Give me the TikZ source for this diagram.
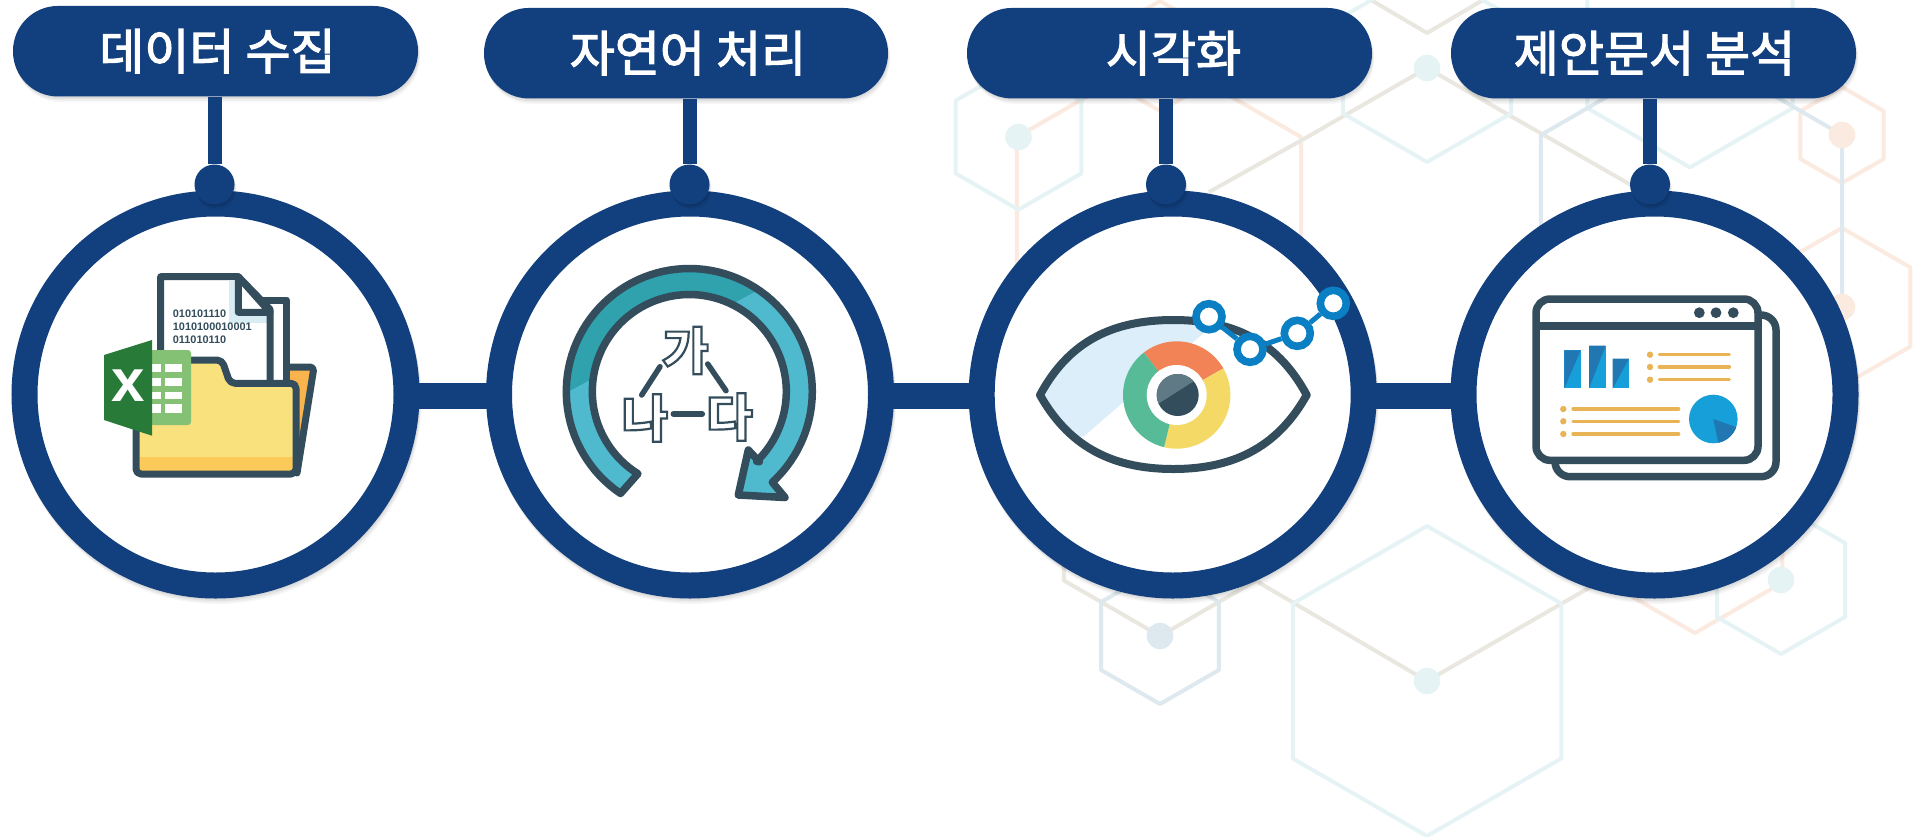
\documentclass[tikz,border=0pt]{standalone}
\usepackage{fontspec}
\setmainfont{Liberation Sans}
\newfontfamily\krfont{Noto Sans CJK KR}
\newfontfamily\krpill{Noto Sans CJK KR}[FakeBold=2.4]
\usetikzlibrary{calc}
\definecolor{navy}{HTML}{123F7D}
\definecolor{slate}{HTML}{344D5C}
\definecolor{hexteal}{HTML}{E6F3F5}
\definecolor{hexblue}{HTML}{DEE9EF}
\definecolor{hexorange}{HTML}{FBEADF}
\definecolor{hexbeige}{HTML}{E9E7E0}
\definecolor{folderyellow}{HTML}{F9E17E}
\definecolor{folderband}{HTML}{FCCA58}
\definecolor{folderback}{HTML}{F9B44E}
\definecolor{foldshade}{HTML}{D8ECF3}
\definecolor{xlsdark}{HTML}{287A38}
\definecolor{xlslight}{HTML}{84C175}
\definecolor{arrowlight}{HTML}{4FB9CD}
\definecolor{arrowdark}{HTML}{2FA2AE}
\definecolor{eyeshade}{HTML}{DBEEFA}
\definecolor{irisorange}{HTML}{F28357}
\definecolor{irisyellow}{HTML}{F5D966}
\definecolor{irisgreen}{HTML}{58BB97}
\definecolor{pupillight}{HTML}{607A85}
\definecolor{chainblue}{HTML}{0A7FC4}
\definecolor{bardark}{HTML}{2177B1}
\definecolor{barlight}{HTML}{179FDA}
\definecolor{listorange}{HTML}{E8B455}
\tikzset{
  hexline/.style={line width=4pt,line join=round},
  hexdot/.style={circle,inner sep=0pt,minimum size=26.6pt},
  ringnode/.style={circle,draw=navy,fill=white,line width=26pt,inner sep=0pt,minimum size=382pt},
  pillnode/.style={rectangle,fill=navy,rounded corners=45pt,minimum width=405pt,minimum height=90.5pt,inner sep=0pt,text=white,font=\krpill\fontsize{49}{51}\selectfont},
  dotnode/.style={circle,fill=navy,inner sep=0pt,minimum size=40pt},
  stemline/.style={navy,line width=14pt},
  barline/.style={navy,line width=26pt,shorten <=-4pt,shorten >=-4pt},
  iconline/.style={slate,line width=7pt,line join=round,line cap=round},
  hangul/.style={inner sep=0pt,font=\krfont\bfseries\fontsize{50.5}{52}\selectfont},
  triline/.style={slate,line width=5.5pt,line cap=round},
  chainnode/.style={circle,draw=chainblue,fill=white,line width=7.6pt,inner sep=0pt,minimum size=26pt},
  chainline/.style={chainblue,line width=5pt},
  listline/.style={listorange,line width=3.4pt,line cap=round},
  bindigit/.style={inner sep=0pt,anchor=west,text=slate,font=\bfseries\fontsize{10.9}{11}\selectfont}
}
\newcommand\hexa[4]{\draw[hexline,#4] ({#1},{#2-#3}) -- ({#1+.866*#3},{#2-.5*#3}) -- ({#1+.866*#3},{#2+.5*#3}) -- ({#1},{#2+#3}) -- ({#1-.866*#3},{#2+.5*#3}) -- ({#1-.866*#3},{#2-.5*#3}) -- cycle;}
\newcommand\ringarrow{plot[domain=236:-47.6,samples=90] ({689.3+123*cos(\x)},{391.5-123*sin(\x)}) -- (772.7,482.7) -- (785,497.5) -- (738.3,495) -- (748.3,450) -- (759.3,461.7) -- plot[domain=-46:238,samples=90] ({689.3+97*cos(\x)},{391.5-97*sin(\x)}) -- cycle}
\newcommand\eyeoutline{(1040,395) .. controls (1067,345) and (1108,320) .. (1173.3,320) .. controls (1238.7,320) and (1279.7,345) .. (1306.7,395) .. controls (1279.7,443) and (1238.7,469) .. (1173.3,469) .. controls (1108,469) and (1067,443) .. (1040,395) -- cycle}
\newcommand\softblock[4]{\foreach \d/\op in {1/.05,2.5/.05,4/.04,5.5/.03}{\fill[black,opacity=\op,rounded corners=#4pt] ({#1+.4*\d},{#2+\d}) rectangle ++(#3);}}
\newcommand\softdisc[3]{\foreach \d/\op in {1/.05,2.5/.05,4/.04,5.5/.03}{\fill[black,opacity=\op] ({#1+.4*\d},{#2+\d}) circle[radius=#3pt];}}
\begin{document}
\begin{tikzpicture}[x=1pt,y=-1pt]
\useasboundingbox (0,0) rectangle (1918,836);
% ---------- background lattice
\begin{scope}
\clip (0,0) rectangle (1918,836);
\hexa{1160}{56}{55}{hexorange}
\hexa{1159}{219}{164}{hexorange}
\hexa{1842}{135}{48}{hexorange}
\hexa{1842}{307}{79}{hexorange}
\hexa{1695}{532}{101}{hexorange}
\draw[hexline,hexbeige] (1371,0) -- (1427,33) -- (1483,0);
\draw[hexline,hexbeige] (1209,192) -- (1302,140) -- (1427,68) -- (1631,185);
\hexa{1160}{525}{111}{hexbeige}
\draw[hexline,hexbeige] (1258,582) -- (1427,681) -- (1594,585) -- (1638,560);
\hexa{1018.5}{137}{72.7}{hexteal}
\hexa{1427}{65}{97}{hexteal}
\hexa{1690}{49}{118.4}{hexteal}
\hexa{1427}{681}{155}{hexteal}
\hexa{1781}{580}{74}{hexteal}
\hexa{1160}{636}{68}{hexblue}
\hexa{1691.5}{222}{174}{hexblue}
\node[hexdot,fill=hexteal] (lata) at (1018.5,137) {};
\node[hexdot,fill=hexteal] (latb) at (1427,68) {};
\node[hexdot,fill=hexteal] (latc) at (1427,681) {};
\node[hexdot,fill=hexteal] (latd) at (1781,580) {};
\node[hexdot,fill=hexblue] (late) at (1160,636) {};
\node[hexdot,fill=hexorange] (latf) at (1842,135) {};
\node[hexdot,fill=hexorange] (latg) at (1842,307) {};
\end{scope}
% ---------- shadows
\softdisc{215.5}{394.5}{204}
\softdisc{690}{394.5}{204}
\softdisc{1172.7}{394.5}{204}
\softdisc{1654.5}{394.5}{204}
\softblock{13}{6}{405,90.5}{45}
\softblock{484}{8}{404,90.5}{45}
\softblock{967}{8}{405,90.5}{45}
\softblock{1451}{8}{405,90.5}{45}
% ---------- rings
\node[ringnode] (ringa) at (215.5,394.5) {};
\node[ringnode] (ringb) at (690,394.5) {};
\node[ringnode] (ringc) at (1172.7,394.5) {};
\node[ringnode] (ringd) at (1654.5,394.5) {};
\draw[barline] ([yshift=-1.5pt]ringa.east) -- ([yshift=-1.5pt]ringb.west);
\draw[barline] ([yshift=-1.5pt]ringb.east) -- ([yshift=-1.5pt]ringc.west);
\draw[barline] ([yshift=-1.5pt]ringc.east) -- ([yshift=-1.5pt]ringd.west);
% ---------- pills, stems, dots
\node[pillnode] (pilla) at (215.5,51.2) {\hspace*{4pt}데이터 수집};
\node[pillnode,minimum width=404pt] (pillb) at (686,53.2) {\hspace*{4pt}자연어 처리};
\node[pillnode] (pillc) at (1169.5,53.2) {\hspace*{8pt}시각화};
\node[pillnode] (pilld) at (1653.5,53.2) {\hspace*{2pt}제안문서 분석};
\softdisc{214.5}{184.5}{20}
\softdisc{689.5}{184.5}{20}
\softdisc{1166}{184.5}{20}
\softdisc{1650}{184.5}{20}
\node[dotnode] (dota) at (214.5,184.5) {};
\node[dotnode] (dotb) at (689.5,184.5) {};
\node[dotnode] (dotc) at (1166,184.5) {};
\node[dotnode] (dotd) at (1650,184.5) {};
\draw[stemline] (pilla.south -| dota) -- (dota);
\draw[stemline] (pillb.south -| dotb) -- (dotb);
\draw[stemline] (pillc.south -| dotc) -- (dotc);
\draw[stemline] (pilld.south -| dotd) -- (dotd);
% ---------- icon 1: folder
\fill[folderback] (288,368) -- (312,368) -- (299,440) -- (288,440) -- cycle;
\draw[iconline,rounded corners=4pt] (287,367) -- (314,367) -- (297,473);
\fill[white] (262,300) rectangle (286.7,385);
\draw[iconline] (262,300) -- (286.7,300) -- (286.7,385);
\fill[white] (160.7,365) -- (160.7,276.7) -- (238.3,276.7) -- (270,309.3) -- (270,385) -- cycle;
\fill[foldshade] (229,280.7) rectangle (236.7,312.3);
\fill[foldshade] (229,312.3) rectangle (266.5,323.3);
\draw[iconline] (160.7,365) -- (160.7,276.7) -- (238.3,276.7) -- (270,309.3) -- (270,385);
\draw[iconline,fill=white] (238.3,276.7) -- (238.3,312.3) -- (270,312.3) -- cycle;
\node[bindigit] (binlinea) at (172.7,313.3) {010101110};
\node[bindigit] (binlineb) at (172.7,326.7) {1010100010001};
\node[bindigit] (binlinec) at (172.7,339.3) {011010110};
\fill[folderyellow,rounded corners=5pt] (136,360) -- (136,474) -- (296,474) -- (296,383.3) -- (230,383.3) -- (222,360) -- cycle;
\fill[folderband] (139.5,456.7) rectangle (293,470.7);
\draw[iconline,rounded corners=5pt] (136,360) -- (136,474) -- (296,474) -- (296,383.3) -- (230,383.3) -- (222,360) -- cycle;
\fill[xlslight,rounded corners=3pt] (150,350) rectangle (191,425);
\foreach \ya/\yb in {364/372.3,378.3/386,391.7/399,404.3/412.7}{
  \fill[white] (152.3,\ya) rectangle (161,\yb);
  \fill[white] (165,\ya) rectangle (181.7,\yb);
}
\fill[xlsdark] (104,355) -- (152,340) -- (152,435.7) -- (104,420) -- cycle;
\node[inner sep=0pt,text=white,font=\bfseries\fontsize{60}{60}\selectfont] (xlsmark) at (128,386) {x};
% ---------- icon 2: arrow and hangul
\fill[arrowlight] \ringarrow;
\begin{scope}
\clip (540,406.7) -- (790,273) -- (790,240) -- (540,240) -- cycle;
\fill[arrowdark] \ringarrow;
\end{scope}
\draw[slate,line width=7.5pt,line join=round] \ringarrow;
\node[hangul] (ga) at (685.5,350.5) {\special{pdf:code q 1 Tr 2.2 w 0.204 0.302 0.361 RG}가\special{pdf:code Q}};
\node[hangul] (na) at (645,418) {\special{pdf:code q 1 Tr 2.2 w 0.204 0.302 0.361 RG}나\special{pdf:code Q}};
\node[hangul] (da) at (729.5,417) {\special{pdf:code q 1 Tr 2.2 w 0.204 0.302 0.361 RG}다\special{pdf:code Q}};
\coordinate (gal) at (660,366.7);
\coordinate (nat) at (641.7,395);
\coordinate (gar) at (707.7,364);
\coordinate (dat) at (726,390.7);
\coordinate (nar) at (673.3,414);
\coordinate (dal) at (702.3,414);
\draw[triline] (gal) -- (nat);
\draw[triline] (gar) -- (dat);
\draw[triline] (nar) -- (dal);
% ---------- icon 3: eye
\begin{scope}
\clip \eyeoutline;
\fill[eyeshade] (1083.3,436.7) -- (1203.3,333.3) -- (1203.3,300) -- (1030,300) -- (1030,436.7) -- cycle;
\end{scope}
\draw[slate,line width=8pt,line join=round] \eyeoutline;
\fill[irisorange] (1176.7,395) -- plot[domain=127.7:29.7,samples=30] ({1176.7+53.7*cos(\x)},{395-53.7*sin(\x)}) -- cycle;
\fill[irisyellow] (1176.7,395) -- plot[domain=29.7:-103.6,samples=30] ({1176.7+53.7*cos(\x)},{395-53.7*sin(\x)}) -- cycle;
\fill[irisgreen] (1176.7,395) -- plot[domain=-103.6:-232.3,samples=30] ({1176.7+53.7*cos(\x)},{395-53.7*sin(\x)}) -- cycle;
\fill[white] (1176.7,395) circle[radius=30pt];
\fill[slate] (1177.7,395) circle[radius=21pt];
\begin{scope}
\clip (1177.7,395) circle[radius=21pt];
\fill[pupillight] (1159,403.3) -- (1196.7,379.3) -- (1196.7,365) -- (1150,365) -- (1150,409) -- cycle;
\end{scope}
\node[chainnode] (chaina) at (1209,316.7) {};
\node[chainnode] (chainb) at (1250,349.3) {};
\node[chainnode] (chainc) at (1297.3,333.3) {};
\node[chainnode] (chaind) at (1333.3,303.3) {};
\draw[chainline] (chaina) -- (chainb);
\draw[chainline] (chainb) -- (chainc);
\draw[chainline] (chainc) -- (chaind);
% ---------- icon 4: dashboard
\draw[slate,line width=7.5pt,fill=white,rounded corners=15pt] (1555,315) rectangle (1776,476.7);
\draw[slate,line width=7.5pt,fill=white,rounded corners=14pt] (1536,299) rectangle (1758,460.3);
\draw[slate,line width=7.5pt] (1536,326) -- (1758,326);
\fill[slate] (1699.3,312.7) circle[radius=5.4pt];
\fill[slate] (1716,312.7) circle[radius=5.4pt];
\fill[slate] (1733.3,312.7) circle[radius=5.4pt];
\foreach \xa/\xb/\yt in {1564.3/1580.7/350.3,1589/1605.7/345.7,1612.7/1629/358.7}{
  \fill[barlight] (\xa,\yt) rectangle (\xb,388.3);
  \fill[bardark] (\xa,\yt) -- (\xb,\yt) -- (\xa,388.3) -- cycle;
}
\foreach \yy in {354.7,367,379.7}{
  \fill[listorange] (1650,\yy) circle[radius=3.2pt];
  \draw[listline] (1659.3,\yy) -- (1729.3,\yy);
}
\foreach \yy in {409,421.3,434}{
  \fill[listorange] (1563.3,\yy) circle[radius=3.2pt];
  \draw[listline] (1573,\yy) -- (1678.7,\yy);
}
\fill[barlight] (1713.3,419) circle[radius=24.3pt];
\fill[bardark] (1713.3,419) -- plot[domain=-19.6:-78,samples=20] ({1713.3+24.3*cos(\x)},{419-24.3*sin(\x)}) -- cycle;
\end{tikzpicture}
\end{document}
